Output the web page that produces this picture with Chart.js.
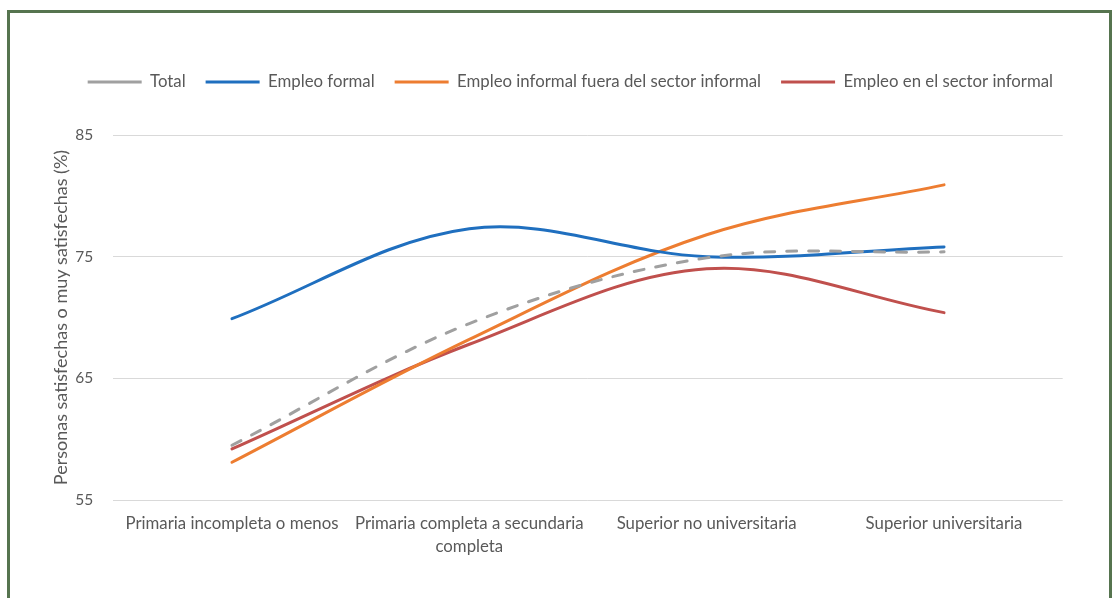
<!DOCTYPE html>
<html>
<head>
<meta charset="utf-8">
<script src="https://cdn.jsdelivr.net/npm/chart.js@4.4.1/dist/chart.umd.min.js"></script>
<style>
  html, body { margin: 0; padding: 0; background: #ffffff; }
  body { width: 1112px; height: 598px; overflow: hidden; position: relative; }
  #frame {
    position: absolute; left: 7px; top: 10px;
    width: 1099px; height: 585px;
    border: 3px solid #56744f;
    background: #ffffff;
  }
  #frame canvas { display: block; }
</style>
</head>
<body>
<div id="frame"><canvas id="chart" width="1099" height="585"></canvas></div>
<script>
// Nivel educativo
const categories = [
  'Primaria incompleta o menos',
  ['Primaria completa a secundaria', 'completa'],
  'Superior no universitaria',
  'Superior universitaria'
];

// Personas satisfechas o muy satisfechas (%)
const total          = [59.5, 69.5, 74.9, 75.4];
const empleoFormal   = [69.9, 77.3, 75.0, 75.8];
const informalFuera  = [58.1, 68.2, 76.8, 80.9];
const sectorInformal = [59.2, 67.8, 74.0, 70.4];

const yTicks = [55, 65, 75, 85];

const FONT = 'Lato, "Open Sans", sans-serif';
const TEXT = '#595959';

// Extra room under the legend and a horizontal shift for it
const legendLayout = {
  id: 'legendLayout',
  beforeInit(chart) {
    const legend = chart.legend;
    if (!legend) return;
    const fit = legend.fit;
    legend.fit = function () {
      fit.call(this);
      this.height += 34.6;
    };
  },
  afterLayout(chart) {
    const legend = chart.legend;
    if (!legend) return;
    legend.left += 34;
    legend.right += 34;
  }
};

const line = (label, data, color, extra) => Object.assign({
  label, data,
  borderColor: color,
  backgroundColor: color,
  borderWidth: 3,
  borderCapStyle: 'round',
  borderJoinStyle: 'round',
  pointRadius: 0,
  pointHoverRadius: 0,
  tension: 0.35,
  fill: false
}, extra || {});

new Chart(document.getElementById('chart'), {
  type: 'line',
  data: {
    labels: categories,
    datasets: [
      line('Total', total, '#a0a0a0', { borderDash: [10, 12], order: 0 }),
      line('Empleo formal', empleoFormal, '#1f6fbf', { order: 1 }),
      line('Empleo informal fuera del sector informal', informalFuera, '#ed7d31', { order: 2 }),
      line('Empleo en el sector informal', sectorInformal, '#c0504d', { order: 3 })
    ]
  },
  options: {
    responsive: false,
    animation: false,
    layout: { padding: { top: 40.6, right: 46.3, bottom: 0, left: 0 } },
    plugins: {
      tooltip: { enabled: false },
      legend: {
        position: 'top',
        align: 'center',
        labels: {
          usePointStyle: true,
          pointStyle: 'line',
          pointStyleWidth: 54,
          padding: 20,
          color: TEXT,
          font: { family: FONT, size: 16.8 }
        }
      }
    },
    scales: {
      x: {
        offset: true,
        grid: { display: false, drawTicks: false },
        border: { display: false },
        ticks: {
          color: TEXT,
          padding: 12,
          maxRotation: 0,
          autoSkip: false,
          font: { family: FONT, size: 16.8, lineHeight: 1.38 }
        },
        afterFit(scale) { scale.height = 98; }
      },
      y: {
        min: 55,
        max: 85,
        afterBuildTicks(scale) { scale.ticks = yTicks.map(v => ({ value: v })); },
        grid: { color: '#d9d9d9', lineWidth: 1, drawTicks: false },
        border: { display: false },
        ticks: {
          color: TEXT,
          padding: 20,
          font: { family: FONT, size: 15.5 }
        },
        title: {
          display: true,
          text: 'Personas satisfechas o muy satisfechas (%)',
          color: TEXT,
          padding: { top: 40, bottom: 0 },
          font: { family: FONT, size: 18 }
        },
        afterFit(scale) { scale.width = 103.3; }
      }
    }
  },
  plugins: [legendLayout]
});
</script>
</body>
</html>
